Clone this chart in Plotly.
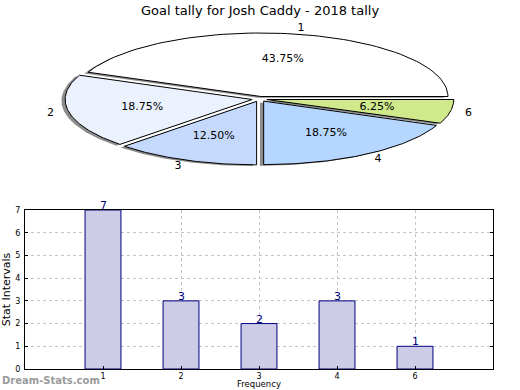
import numpy as np
import plotly.graph_objects as go

# ---- data ----
categories = ["1", "2", "3", "4", "6"]
goal_counts = [7, 3, 2, 3, 1]
slice_colors = ["#ffffff", "#ebf2fe", "#c5d9fd", "#b5d6fe", "#cfe98b"]
title_text = "Goal tally for Josh Caddy - 2018 tally"
y_title = "Stat Intervals"
x_title = "Frequency"
watermark = "Dream-Stats.com"

W, H = 520, 390
FONT = "DejaVu Sans, Verdana, sans-serif"

fig = go.Figure()

# ---- pie (elliptical, exploded, with shadow) ----
total = float(sum(goal_counts))
fracs = [v / total for v in goal_counts]
explode = 0.04
shadow_dx, shadow_dy = -0.02, -0.02

starts = np.cumsum([0.0] + fracs[:-1]) * 360.0
wedges = []
for f, a0 in zip(fracs, starts):
    a1 = a0 + f * 360.0
    mid = np.deg2rad((a0 + a1) / 2)
    ox, oy = explode * np.cos(mid), explode * np.sin(mid)
    th = np.deg2rad(np.linspace(a0, a1, 80))
    xs = np.concatenate([[ox], ox + np.cos(th), [ox]])
    ys = np.concatenate([[oy], oy + np.sin(th), [oy]])
    wedges.append((xs, ys, mid, ox, oy))

# shadows first
for xs, ys, mid, ox, oy in wedges:
    fig.add_trace(go.Scatter(x=xs + shadow_dx, y=ys + shadow_dy, mode="lines",
                             fill="toself", fillcolor="rgba(0,0,0,0.45)",
                             line=dict(width=0), hoverinfo="skip",
                             showlegend=False, xaxis="x2", yaxis="y2"))
for (xs, ys, mid, ox, oy), col, cat in zip(wedges, slice_colors, categories):
    fig.add_trace(go.Scatter(x=xs, y=ys, mode="lines", fill="toself",
                             fillcolor=col, line=dict(color="black", width=1),
                             name=cat, showlegend=False, xaxis="x2", yaxis="y2"))

lab_x = [1.1 * np.cos(m) + ox for _, _, m, ox, oy in wedges]
lab_y = [1.1 * np.sin(m) + oy for _, _, m, ox, oy in wedges]
pct_x = [0.6 * np.cos(m) + ox for _, _, m, ox, oy in wedges]
pct_y = [0.6 * np.sin(m) + oy for _, _, m, ox, oy in wedges]
fig.add_trace(go.Scatter(x=lab_x, y=lab_y, mode="text", text=categories,
                         textfont=dict(size=11, color="black", family=FONT),
                         showlegend=False, hoverinfo="skip", xaxis="x2", yaxis="y2"))
fig.add_trace(go.Scatter(x=pct_x, y=pct_y, mode="text",
                         text=["%.2f%%" % (f * 100) for f in fracs],
                         textfont=dict(size=11, color="black", family=FONT),
                         showlegend=False, hoverinfo="skip", xaxis="x2", yaxis="y2"))

# ---- bar chart ----
fig.add_trace(go.Bar(x=categories, y=goal_counts, width=0.46,
                     marker=dict(color="#ccccE6", line=dict(color="#000080", width=1)),
                     showlegend=False, xaxis="x", yaxis="y"))
for i, v in enumerate(goal_counts):
    fig.add_annotation(x=i, y=v, xref="x", yref="y", text=str(v), showarrow=False,
                       yanchor="bottom", yshift=-4,
                       font=dict(size=11, color="#000080", family=FONT))

# pie axes geometry (ellipse radii in px)
cx_px, cy_px, rx_px, ry_px, pie_h = 259.5, 99.0, 187.0, 63.5, 200.0
grid = dict(showgrid=True, gridcolor="#c4c4c4", griddash="dot", gridwidth=1)

fig.update_layout(
    width=W, height=H,
    margin=dict(l=0, r=0, t=0, b=0),
    paper_bgcolor="white", plot_bgcolor="white",
    font=dict(family=FONT, color="black"),
    title=dict(text=title_text, x=0.5, xanchor="center", y=1 - 10 / H,
               yanchor="middle", font=dict(size=13, family=FONT)),
    xaxis2=dict(domain=[0, 1], range=[-cx_px / rx_px, (W - cx_px) / rx_px],
                visible=False, anchor="y2", fixedrange=True),
    yaxis2=dict(domain=[1 - pie_h / H, 1],
                range=[-(pie_h - cy_px) / ry_px, cy_px / ry_px],
                visible=False, anchor="x2", fixedrange=True),
    xaxis=dict(domain=[25 / W, 493 / W], anchor="y", type="category",
               range=[-1, 5], showline=True, linecolor="black", linewidth=1,
               mirror=True, ticks="inside", ticklen=3, tickcolor="black",
               tickfont=dict(size=8), zeroline=False, ticklabelstandoff=-1,
               automargin=False, **grid),
    yaxis=dict(domain=[1 - 369 / H, 1 - 210 / H], anchor="x", range=[0, 7],
               dtick=1, showline=True, linecolor="black", linewidth=1,
               mirror="ticks", ticks="inside", ticklen=3, tickcolor="black",
               tickfont=dict(size=8), zeroline=False, ticklabelstandoff=2,
               title=dict(text=y_title, font=dict(size=11), standoff=2),
               automargin=False, **grid),
)

# x-axis title (placed below tick labels, as in the reference)
fig.add_annotation(x=0.5 * (25 + 493) / W, y=0, xref="paper", yref="paper",
                   text=x_title, showarrow=False, xanchor="center", yanchor="bottom",
                   borderpad=0, font=dict(size=8.5, color="black", family=FONT))

fig.add_annotation(x=0, y=1 - 380 / H, xref="paper", yref="paper", text="<b>%s</b>" % watermark,
                   showarrow=False, xanchor="left", yanchor="middle",
                   font=dict(size=10, color="#9a9a9a", family=FONT))

fig.write_html("out.html", config={"displayModeBar": False},
               post_script="document.body.style.margin='0';document.body.style.overflow='hidden';")
